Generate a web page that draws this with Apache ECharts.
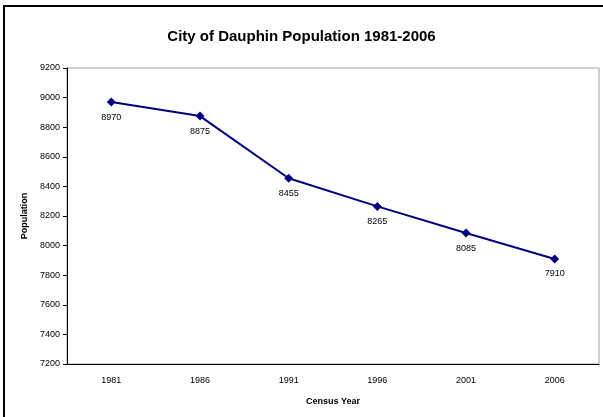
<!DOCTYPE html>
<html>
<head>
<meta charset="utf-8">
<script src="https://cdn.jsdelivr.net/npm/echarts@6/dist/echarts.min.js"></script>
<style>
  html, body { margin: 0; padding: 0; background: #fff; }
  #main { width: 603px; height: 417px; }
</style>
</head>
<body>
<div id="main"></div>
<script>
var years = ['1981', '1986', '1991', '1996', '2001', '2006'];
var population = [8970, 8875, 8455, 8265, 8085, 7910];
var yMin = 7200, yMax = 9200, yStep = 200;

var myChart = echarts.init(document.getElementById('main'));
var font = 'Liberation Sans, Arial, sans-serif';
var options = {
    backgroundColor: '#fff',
    animation: false,
    // 外框
    graphic: [{
        type: 'rect',
        shape: { x: 4, y: 6, width: 640, height: 440 },
        style: { fill: 'none', stroke: '#000', lineWidth: 2 },
        z: 10
    }],
    title: {
        text: 'City of Dauphin Population 1981-2006',
        left: 'center',
        top: 24,
        textStyle: { fontFamily: font, fontSize: 15, fontWeight: 'bold', color: '#000' }
    },
    grid: {
        left: 67, right: 4, top: 68, bottom: 53,
        show: true,
        borderColor: '#a0a0a0',
        borderWidth: 1
    },
    xAxis: {
        type: 'category',
        data: years,
        boundaryGap: true,
        name: 'Census Year',
        nameLocation: 'middle',
        nameGap: 33,
        nameTextStyle: { fontFamily: font, fontSize: 9, fontWeight: 'bold', color: '#000' },
        axisLine: { lineStyle: { color: '#000', width: 1 } },
        axisTick: { length: 4, lineStyle: { color: '#000' } },
        axisLabel: { fontFamily: font, fontSize: 9, color: '#000', margin: 12 },
        splitLine: { show: false }
    },
    yAxis: {
        type: 'value',
        min: yMin, max: yMax, interval: yStep,
        name: 'Population',
        nameLocation: 'middle',
        nameGap: 35,
        nameTextStyle: { fontFamily: font, fontSize: 9, fontWeight: 'bold', color: '#000' },
        axisLine: { show: true, lineStyle: { color: '#000', width: 1 } },
        axisTick: { show: true, length: 4, lineStyle: { color: '#000' } },
        axisLabel: {
            fontFamily: font, fontSize: 9, color: '#000', margin: 7,
            formatter: function (v) { return String(v); }
        },
        splitLine: { show: false }
    },
    series: [{
        type: 'line',
        data: population,
        symbol: 'diamond',
        symbolSize: 9,
        lineStyle: { color: '#000080', width: 2 },
        itemStyle: { color: '#000080' },
        label: {
            show: true,
            position: 'bottom',
            distance: 6,
            fontFamily: font, fontSize: 9, color: '#000'
        }
    }]
};
myChart.setOption(options);
</script>
</body>
</html>
